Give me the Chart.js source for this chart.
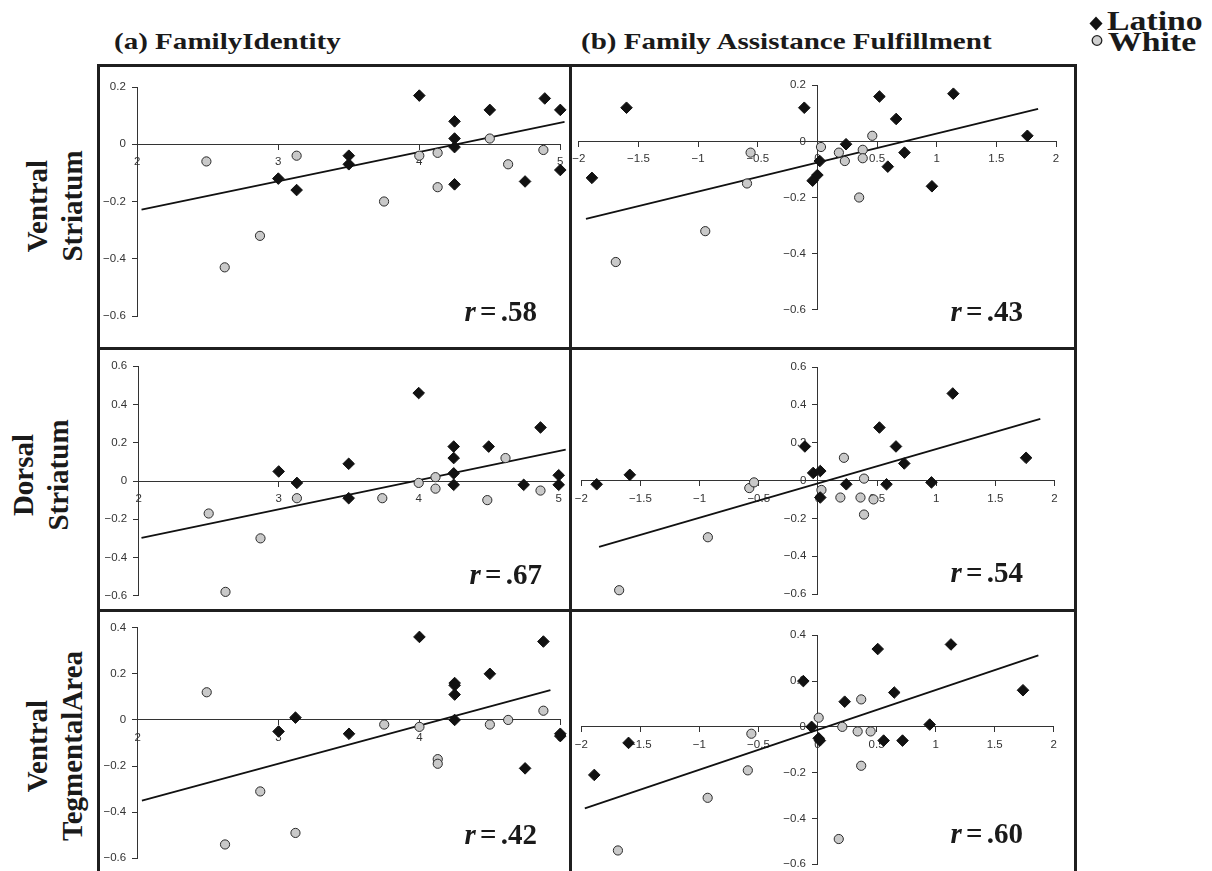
<!DOCTYPE html>
<html>
<head>
<meta charset="utf-8">
<script src="https://cdn.jsdelivr.net/npm/chart.js@4.4.0/dist/chart.umd.min.js"></script>
<style>
  body { margin:0; background:#fff; width:1212px; height:871px; overflow:hidden; position:relative; }
  canvas { position:absolute; }
  .title { position:absolute; font:bold 24px "Liberation Serif", serif; color:#1a1a1a; white-space:nowrap; line-height:24px;
           transform:scaleX(1.21); transform-origin:left top; }
  .rowlab { position:absolute; font:bold 29px "Liberation Serif", serif; line-height:35px; text-align:center; transform:rotate(-90deg); color:#1a1a1a; white-space:nowrap; }
  .rlab { position:absolute; width:150px; text-align:right; font:bold 29px "Liberation Serif", serif; line-height:30px; color:#1a1a1a; white-space:nowrap; z-index:6; word-spacing:-3px; }
  .rule { position:absolute; background:#1f1f1f; z-index:5; }
  .leg { position:absolute; font:bold 27px "Liberation Serif", serif; color:#1a1a1a; line-height:27px;
         transform:scaleX(1.25); transform-origin:left top; }
</style>
</head>
<body>
<div class="title" style="left:114px; top:29px;">(a) FamilyIdentity</div>
<div class="title" style="left:581px; top:29px;">(b) Family Assistance Fulfillment</div>

<svg style="position:absolute; left:1088px; top:15px;" width="18" height="36">
  <polygon points="8,1.5 14.5,8.5 8,15.5 1.5,8.5" fill="#111"/>
  <circle cx="9" cy="25.5" r="4.8" fill="#d0d0d0" stroke="#222" stroke-width="1.3"/>
</svg>
<div class="leg" style="left:1107px; top:8px;">Latino</div>
<div class="leg" style="left:1108px; top:29px;">White</div>

<div class="rowlab" style="left:-75px; top:171px; width:260px; height:70px;">Ventral<br>Striatum</div>
<div class="rowlab" style="left:-89px; top:440px; width:260px; height:70px;">Dorsal<br>Striatum</div>
<div class="rowlab" style="left:-75px; top:711px; width:260px; height:70px;">Ventral<br>TegmentalArea</div>

<div class="rule" style="left:97px; top:64px; width:980px; height:3px;"></div>
<div class="rule" style="left:97px; top:64px; width:3px; height:830px;"></div>
<div class="rule" style="left:1074px; top:64px; width:3px; height:830px;"></div>
<div class="rule" style="left:569px; top:64px; width:3px; height:830px;"></div>
<div class="rule" style="left:97px; top:347px; width:980px; height:3px;"></div>
<div class="rule" style="left:97px; top:609px; width:980px; height:3px;"></div>

<div class="rlab" style="left:387px; top:296px;"><i>r</i> = .58</div>
<div class="rlab" style="left:873px; top:296px;"><i>r</i> = .43</div>
<div class="rlab" style="left:392px; top:559px;"><i>r</i> = .67</div>
<div class="rlab" style="left:873px; top:557px;"><i>r</i> = .54</div>
<div class="rlab" style="left:387px; top:819px;"><i>r</i> = .42</div>
<div class="rlab" style="left:873px; top:818px;"><i>r</i> = .60</div>

<script>
// tick labels / axis ranges: [min, max, step]
const xRangeA = [2, 5, 1];
const xRangeB = [-2, 2, 0.5];
const yRangeVS = [-0.6, 0.2, 0.2];
const yRangeDS = [-0.6, 0.6, 0.2];
const yRangeVTA = [-0.6, 0.4, 0.2];

// Ventral Striatum
const vsA_latino = [[4.0,0.17],[4.89,0.16],[4.5,0.12],[5.0,0.12],[4.25,0.08],[4.25,0.02],[4.25,-0.01],
  [3.5,-0.04],[3.5,-0.07],[3.0,-0.12],[3.13,-0.16],[4.25,-0.14],[4.75,-0.13],[5.0,-0.09]];
const vsA_white = [[2.49,-0.06],[2.62,-0.43],[2.87,-0.32],[3.13,-0.04],[3.75,-0.20],[4.0,-0.04],
  [4.13,-0.03],[4.13,-0.15],[4.5,0.02],[4.63,-0.07],[4.88,-0.02]];
const vsA_fit = [[2.03,-0.228],[5.03,0.078]];

const vsB_latino = [[-1.6,0.12],[-1.89,-0.13],[-0.11,0.12],[0.52,0.16],[1.14,0.17],[0.66,0.08],[1.76,0.02],
  [0.24,-0.01],[0.73,-0.04],[0.02,-0.07],[0.59,-0.09],[0.0,-0.12],[-0.04,-0.14],[0.96,-0.16]];
const vsB_white = [[-1.69,-0.43],[-0.94,-0.32],[-0.59,-0.15],[-0.56,-0.04],[0.03,-0.02],[0.18,-0.04],
  [0.23,-0.07],[0.38,-0.03],[0.38,-0.06],[0.46,0.02],[0.35,-0.20]];
const vsB_fit = [[-1.94,-0.276],[1.85,0.116]];

// Dorsal Striatum
const dsA_latino = [[4.0,0.46],[4.87,0.28],[4.25,0.18],[4.5,0.18],[4.25,0.12],[3.5,0.09],[3.0,0.05],
  [4.25,0.04],[5.0,0.03],[3.13,-0.01],[4.25,-0.02],[4.75,-0.02],[5.0,-0.02],[3.5,-0.09]];
const dsA_white = [[2.5,-0.17],[2.62,-0.58],[2.87,-0.30],[3.13,-0.09],[3.74,-0.09],[4.0,-0.01],
  [4.12,0.02],[4.12,-0.04],[4.49,-0.10],[4.62,0.12],[4.87,-0.05]];
const dsA_fit = [[2.02,-0.297],[5.05,0.164]];

const dsB_latino = [[-1.87,-0.02],[-1.59,0.03],[-0.11,0.18],[-0.04,0.04],[0.02,0.05],[0.02,-0.09],[0.24,-0.02],
  [0.52,0.28],[0.58,-0.02],[0.66,0.18],[0.73,0.09],[0.96,-0.01],[1.14,0.46],[1.76,0.12]];
const dsB_white = [[-1.68,-0.58],[-0.93,-0.30],[-0.58,-0.04],[-0.54,-0.01],[0.03,-0.05],[0.19,-0.09],
  [0.22,0.12],[0.36,-0.09],[0.39,0.01],[0.39,-0.18],[0.47,-0.10]];
const dsB_fit = [[-1.85,-0.351],[1.88,0.326]];

// Ventral Tegmental Area
const vtaA_latino = [[4.0,0.36],[4.88,0.34],[4.5,0.20],[4.25,0.16],[4.25,0.15],[4.25,0.11],[3.12,0.01],
  [4.25,0.0],[3.0,-0.05],[3.5,-0.06],[5.0,-0.06],[5.0,-0.07],[4.75,-0.21]];
const vtaA_white = [[2.49,0.12],[2.62,-0.54],[2.87,-0.31],[3.12,-0.49],[3.75,-0.02],[4.0,-0.03],
  [4.13,-0.17],[4.13,-0.19],[4.5,-0.02],[4.63,0.0],[4.88,0.04]];
const vtaA_fit = [[2.03,-0.35],[4.93,0.129]];

const vtaB_latino = [[-1.89,-0.21],[-1.6,-0.07],[-0.12,0.20],[-0.05,0.0],[0.01,-0.05],[0.02,-0.06],[0.23,0.11],
  [0.51,0.34],[0.56,-0.06],[0.65,0.15],[0.72,-0.06],[0.95,0.01],[1.13,0.36],[1.74,0.16]];
const vtaB_white = [[-1.69,-0.54],[-0.93,-0.31],[-0.59,-0.19],[-0.56,-0.03],[0.01,0.04],[0.18,-0.49],
  [0.21,0.0],[0.34,-0.02],[0.37,0.12],[0.37,-0.17],[0.45,-0.02]];
const vtaB_fit = [[-1.97,-0.356],[1.87,0.312]];

// panel cells and plot areas in page pixels: [left, top, right, bottom]
const panels = [
  { cell:[100,67,569,347], area:[137.3,87,560.3,316], xr:xRangeA, yr:yRangeVS, lat:vsA_latino, wht:vsA_white, fit:vsA_fit },
  { cell:[572,67,1074,347], area:[578,85.3,1056,309.7], xr:xRangeB, yr:yRangeVS, lat:vsB_latino, wht:vsB_white, fit:vsB_fit },
  { cell:[100,350,569,609], area:[138.7,366.3,558.7,595.7], xr:xRangeA, yr:yRangeDS, lat:dsA_latino, wht:dsA_white, fit:dsA_fit },
  { cell:[572,350,1074,609], area:[581.3,367,1054.5,594], xr:xRangeB, yr:yRangeDS, lat:dsB_latino, wht:dsB_white, fit:dsB_fit },
  { cell:[100,612,569,871], area:[137.7,627.7,560.3,858.3], xr:xRangeA, yr:yRangeVTA, lat:vtaA_latino, wht:vtaA_white, fit:vtaA_fit },
  { cell:[572,612,1074,871], area:[581.3,635.3,1053.7,865], xr:xRangeB, yr:yRangeVTA, lat:vtaB_latino, wht:vtaB_white, fit:vtaB_fit }
];

const fmt = v => { const r = Math.round(v * 10) / 10; return (r < 0 ? '\u2212' : '') + Math.abs(r); };
// y labels are drawn right-aligned on the axis line, so pad them off it
const fmtY = v => fmt(v) + '\u2002\u2002';
const pts = arr => arr.map(p => ({ x: p[0], y: p[1] }));

function axis(r, pos, cb) {
  return {
    type: 'linear', min: r[0], max: r[1], position: pos,
    ticks: { stepSize: r[2], callback: cb, color: '#333', padding: 6, maxRotation: 0, autoSkip: false,
             font: { family: 'Liberation Sans', size: 11.5 } },
    grid: { drawOnChartArea: false, drawTicks: true, tickLength: 5, color: '#333', lineWidth: 1 },
    border: { display: true, color: '#333', width: 1 },
    afterFit: s => {
      if (s.isHorizontal()) s.height = 0; else s.width = 0;
      s.paddingLeft = s.paddingRight = s.paddingTop = s.paddingBottom = 0;
    }
  };
}

panels.forEach(p => {
  const c = document.createElement('canvas');
  const w = p.cell[2] - p.cell[0], h = p.cell[3] - p.cell[1];
  c.width = w; c.height = h;
  c.style.left = p.cell[0] + 'px'; c.style.top = p.cell[1] + 'px';
  c.style.width = w + 'px'; c.style.height = h + 'px';
  document.body.appendChild(c);

  new Chart(c.getContext('2d'), {
    type: 'scatter',
    data: {
      datasets: [
        { label: 'Latino', data: pts(p.lat), pointStyle: 'rectRot', pointRadius: 5.8,
          backgroundColor: '#111', borderColor: '#111', borderWidth: 1, order: 0, clip: false },
        { label: 'White', data: pts(p.wht), pointStyle: 'circle', pointRadius: 4.6,
          backgroundColor: '#c9c9c9', borderColor: '#2a2a2a', borderWidth: 1, order: 1, clip: false },
        { label: 'fit', data: pts(p.fit), showLine: true, pointRadius: 0,
          borderColor: '#111', borderWidth: 1.8, order: 2, clip: false }
      ]
    },
    options: {
      responsive: false,
      animation: false,
      devicePixelRatio: 1,
      layout: { padding: {
        left: p.area[0] - p.cell[0], top: p.area[1] - p.cell[1],
        right: p.cell[2] - p.area[2], bottom: p.cell[3] - p.area[3] } },
      plugins: { legend: { display: false }, tooltip: { enabled: false } },
      scales: {
        x: axis(p.xr, { y: 0 }, fmt),
        y: axis(p.yr, { x: p.xr[0] < 0 ? 0 : p.xr[0] }, fmtY)
      }
    }
  });
});
</script>
</body>
</html>
